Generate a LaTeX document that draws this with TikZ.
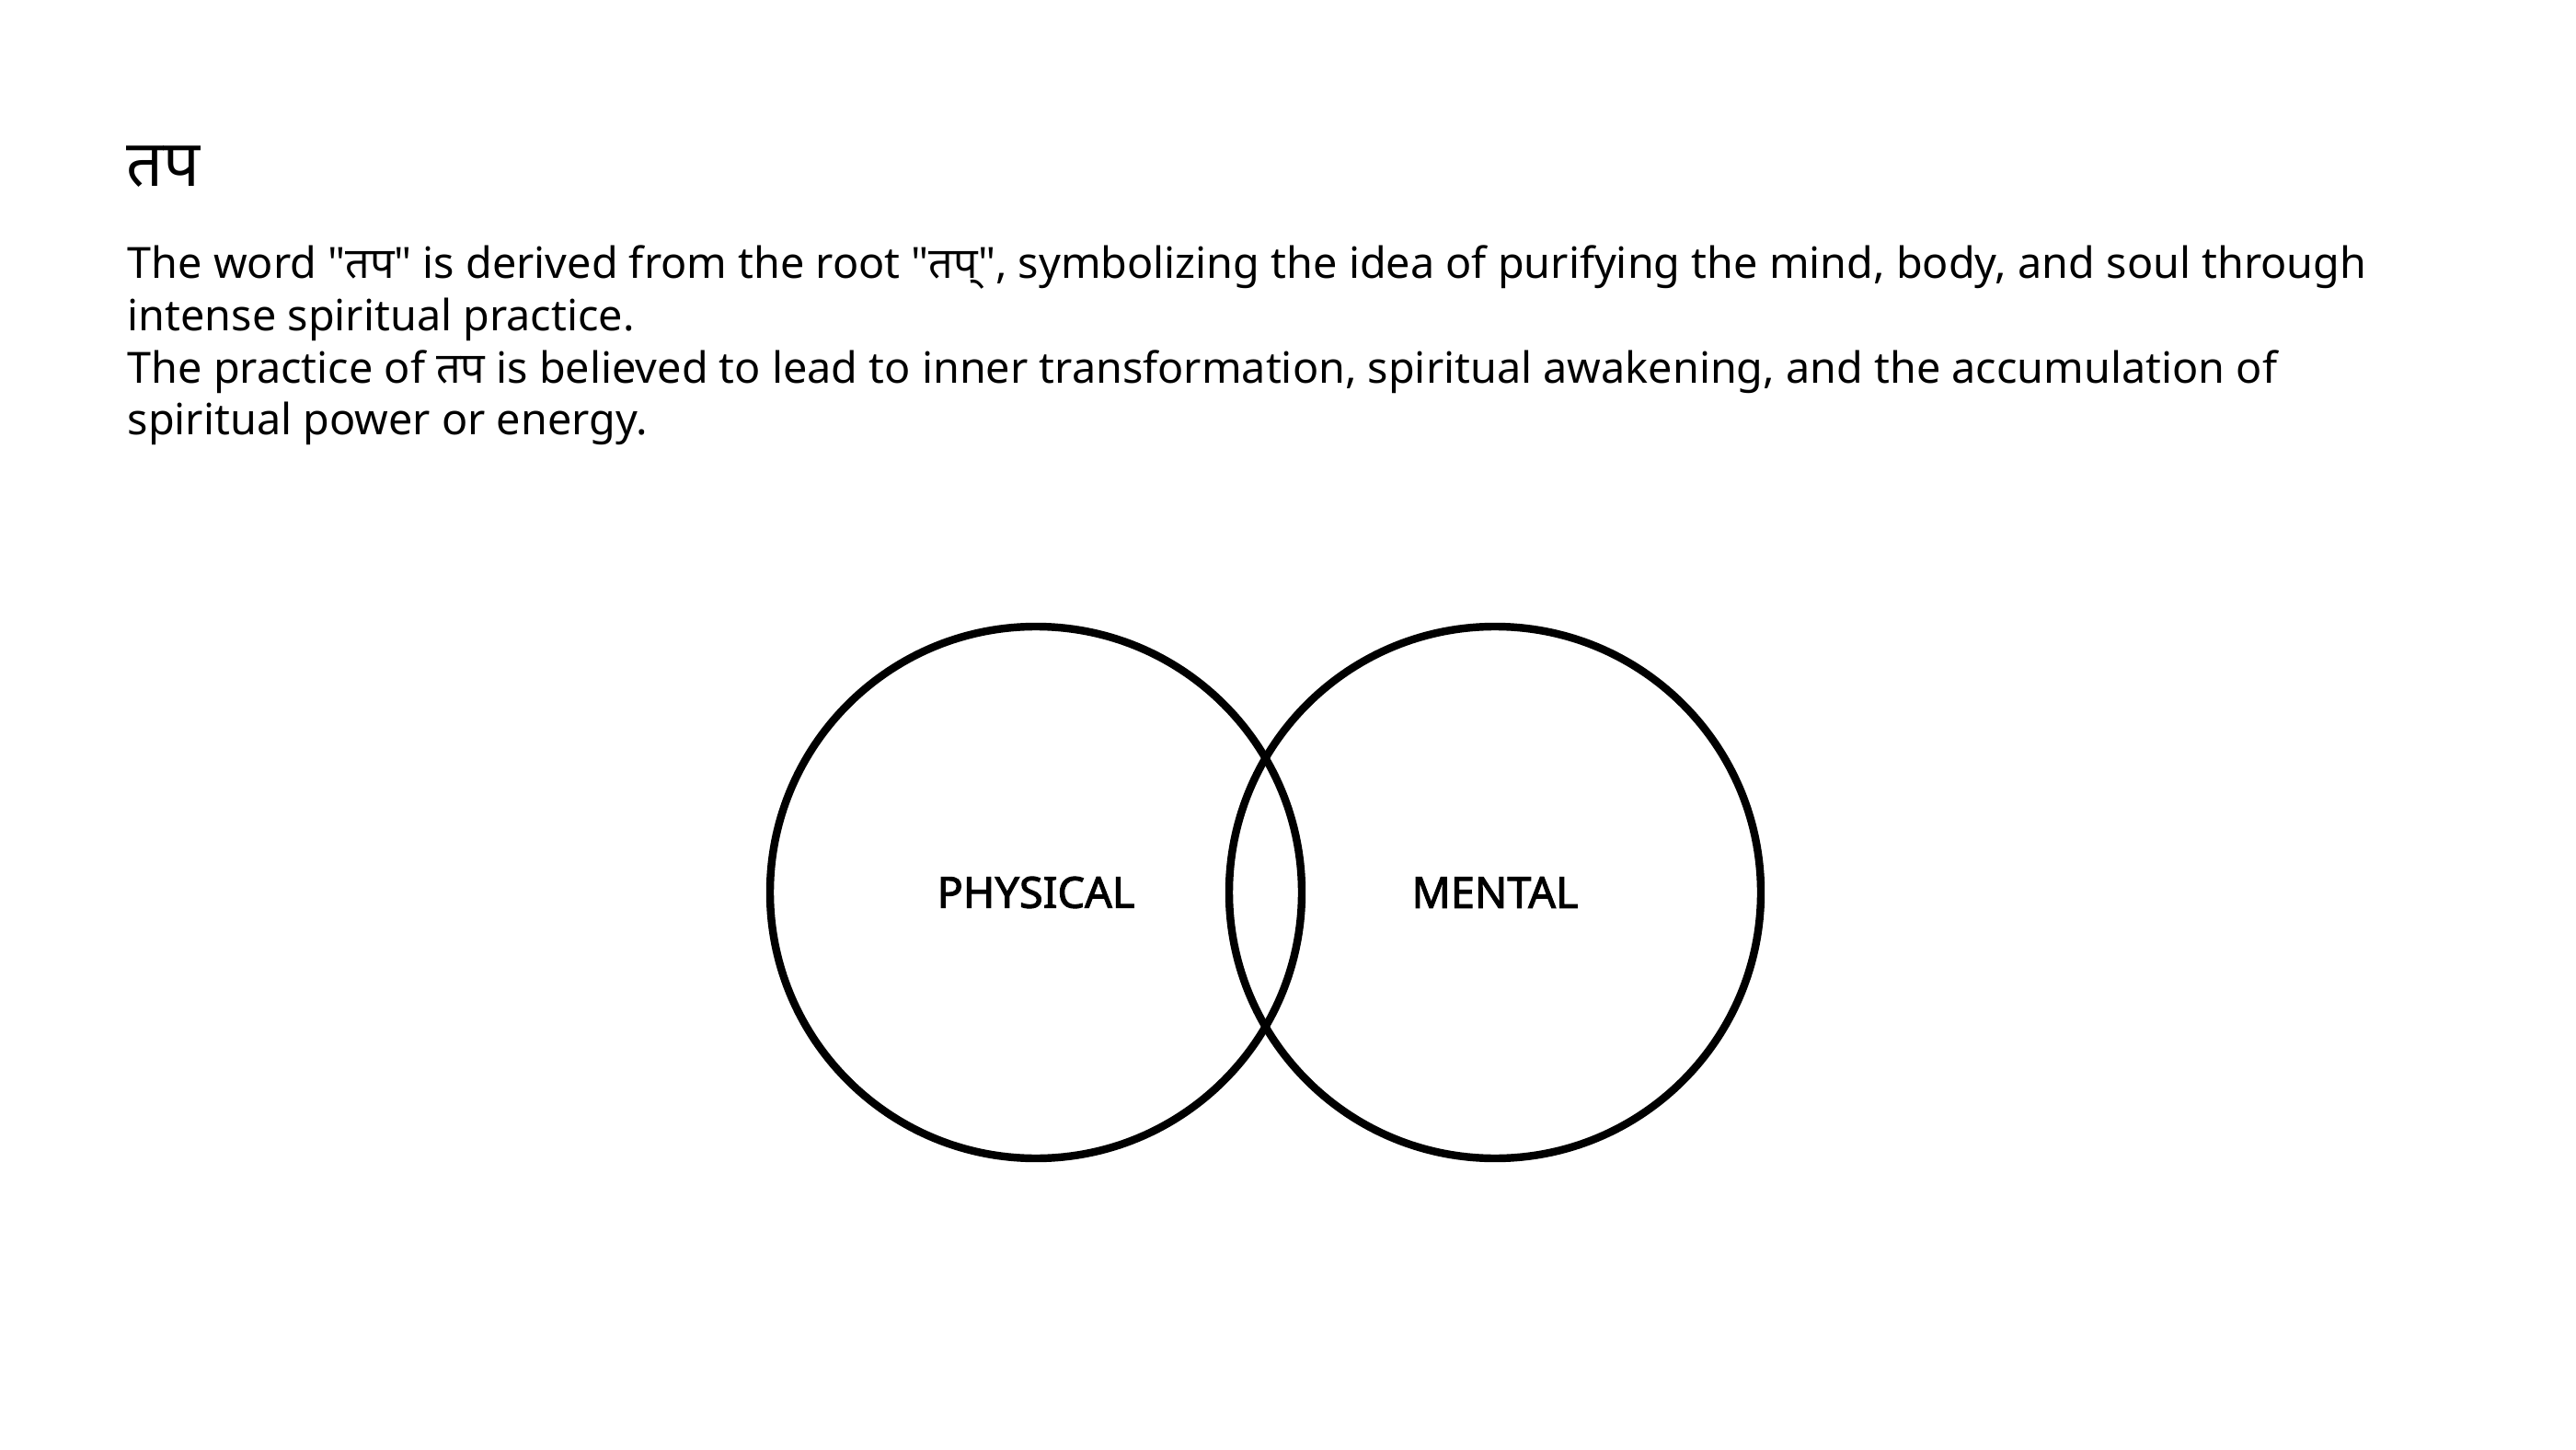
\documentclass[tikz,border=0pt]{standalone}
\usepackage{fontspec}
\setmainfont{Noto Sans}
\newfontfamily\deva[Script=Devanagari]{Noto Sans}
\newfontfamily\fett[FakeBold=2.2]{Noto Sans}
\usetikzlibrary{positioning}

\tikzset{
  zeile/.style={anchor=base west, inner sep=0pt, font=\fontsize{13.3}{16}\selectfont},
  kreis/.style={circle, draw=black, line width=2.4pt, minimum size=5.78cm, inner sep=0pt,
                font=\fett\fontsize{13.3}{16}\selectfont}
}

\begin{document}
\begin{tikzpicture}
  \useasboundingbox (0,0) rectangle (28,15.75);

  %Titel
  \node[anchor=base west, inner sep=0pt, font=\fontsize{20}{24}\selectfont] (titel) at (1.37,13.72) {\deva तप};

  %Text
  \node[zeile] (z1) at (1.38,12.72) {The word {\deva "तप"} is derived from the root {\deva "तप्"}, symbolizing the idea of purifying the mind, body, and soul through};
  \node[zeile] (z2) at (1.38,12.15) {intense spiritual practice.};
  \node[zeile] (z3) at (1.38,11.58) {The practice of {\deva तप} is believed to lead to inner transformation, spiritual awakening, and the accumulation of};
  \node[zeile] (z4) at (1.38,11.02) {spiritual power or energy.};

  %Kreise
  \node[kreis] (physisch) at (11.26,6.05) {PHYSICAL};
  \node[kreis] (mental) at (16.25,6.05) {MENTAL};
\end{tikzpicture}
\end{document}
